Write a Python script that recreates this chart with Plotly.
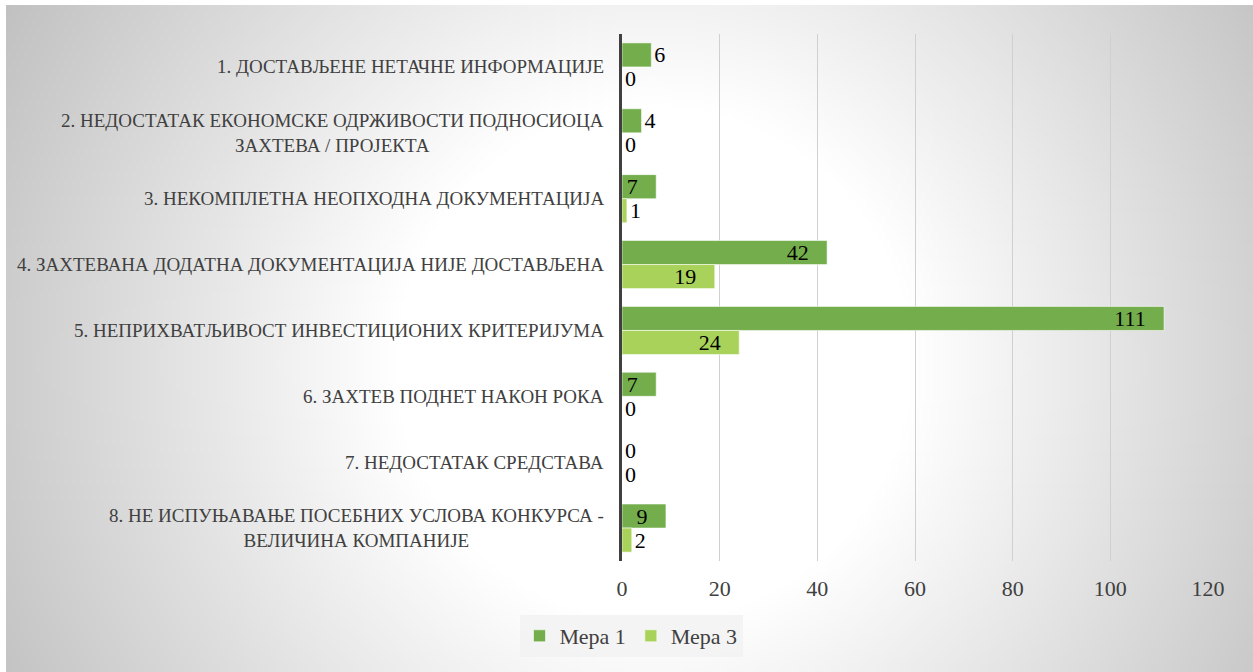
import base64
import struct
import zlib

import numpy as np
import plotly.graph_objects as go

categories = [
    "1. ДОСТАВЉЕНЕ НЕТАЧНЕ ИНФОРМАЦИЈЕ",
    "2. НЕДОСТАТАК ЕКОНОМСКЕ ОДРЖИВОСТИ ПОДНОСИОЦА<br>ЗАХТЕВА / ПРОЈЕКТА",
    "3. НЕКОМПЛЕТНА НЕОПХОДНА ДОКУМЕНТАЦИЈА",
    "4. ЗАХТЕВАНА ДОДАТНА ДОКУМЕНТАЦИЈА НИЈЕ ДОСТАВЉЕНА",
    "5. НЕПРИХВАТЉИВОСТ ИНВЕСТИЦИОНИХ КРИТЕРИЈУМА",
    "6. ЗАХТЕВ ПОДНЕТ НАКОН РОКА",
    "7. НЕДОСТАТАК СРЕДСТАВА",
    "8. НЕ ИСПУЊАВАЊЕ ПОСЕБНИХ УСЛОВА КОНКУРСА -<br>ВЕЛИЧИНА КОМПАНИЈЕ",
]
mera1 = [6, 4, 7, 42, 111, 7, 0, 9]
mera3 = [0, 0, 1, 19, 24, 0, 0, 2]
x_ticks = [0, 20, 40, 60, 80, 100, 120]

W, H = 1253, 672
ML, MR, MT, MB = 622, 45, 34, 111
plot_w = W - ML - MR
plot_h = H - MT - MB
x_max = 120
px_per_unit = plot_w / x_max

FONT = "Liberation Serif"
GREY_TEXT = "#404040"


def png_uri(pix):
    h, w, _ = pix.shape
    raw = b"".join(b"\x00" + pix[r].tobytes() for r in range(h))

    def chunk(tag, data):
        return (struct.pack(">I", len(data)) + tag + data
                + struct.pack(">I", zlib.crc32(tag + data) & 0xffffffff))

    png = (b"\x89PNG\r\n\x1a\n"
           + chunk(b"IHDR", struct.pack(">IIBBBBB", w, h, 8, 2, 0, 0, 0))
           + chunk(b"IDAT", zlib.compress(raw, 9))
           + chunk(b"IEND", b""))
    return "data:image/png;base64," + base64.b64encode(png).decode()


# radial grey background (white in the middle, grey towards the corners)
bx0, by0 = 6, 5
gw, gh = (W - bx0) // 4, (H - by0) // 4
yy, xx = np.mgrid[0:gh, 0:gw]
px_x = bx0 + xx * 4
px_y = by0 + yy * 4
dist = np.hypot(px_x - 650, px_y - 360)
t = np.clip((dist - 260) / 480, 0, 1)
shade = (255 - t * 62).astype(np.uint8)
bg = np.dstack([shade, shade, shade])


def label_settings(values):
    pos, tmpl = [], []
    for v in values:
        if v * px_per_unit >= 32:
            pos.append("inside")
            tmpl.append("%{x}\u00a0\u00a0\u2009")
        else:
            pos.append("outside")
            tmpl.append("%{x}")
    return pos, tmpl


fig = go.Figure()
for name, vals, color in [("Мера 1", mera1, "#74AE4C"), ("Мера 3", mera3, "#A8D25A")]:
    pos, tmpl = label_settings(vals)
    fig.add_bar(
        y=categories, x=vals, name=name, orientation="h",
        marker=dict(color=color, line=dict(color="rgba(255,255,255,0.55)", width=1)),
        textposition=pos, texttemplate=tmpl, insidetextanchor="end",
        constraintext="none", cliponaxis=False,
        textfont=dict(family=FONT, size=22, color="black"),
        hoverinfo="skip",
    )

for c in categories:
    fig.add_annotation(
        xref="paper", x=0, xanchor="right", xshift=-16,
        yref="y", y=c, text=c, showarrow=False, align="center",
        font=dict(family=FONT, size=19, color=GREY_TEXT),
    )

fig.add_layout_image(
    source=png_uri(bg), xref="paper", yref="paper",
    x=(bx0 - ML) / plot_w, y=(H - MB - by0) / plot_h,
    sizex=(W - bx0) / plot_w, sizey=(H - by0) / plot_h,
    xanchor="left", yanchor="top", sizing="stretch", layer="below",
)

fig.update_layout(
    width=W, height=H, autosize=False,
    margin=dict(l=ML, r=MR, t=MT, b=MB, pad=0),
    paper_bgcolor="white", plot_bgcolor="rgba(0,0,0,0)",
    barmode="group", bargap=0.27, bargroupgap=0.0,
    font=dict(family=FONT, color=GREY_TEXT),
    showlegend=True,
    legend=dict(
        orientation="h", x=(631 - ML) / plot_w, xanchor="center",
        y=-(615 - (H - MB)) / plot_h, yanchor="top",
        bgcolor="rgba(242,242,242,0.85)",
        font=dict(family=FONT, size=22, color=GREY_TEXT),
        traceorder="normal",
    ),
)
fig.update_xaxes(
    range=[0, x_max], tickvals=x_ticks, showgrid=True, gridcolor="#d0d0d0",
    gridwidth=1, zeroline=False, showline=False, ticks="",
    tickfont=dict(family=FONT, size=22, color=GREY_TEXT), ticklabelstandoff=12,
    fixedrange=True,
)
fig.update_yaxes(
    autorange="reversed", showticklabels=False, showgrid=False, zeroline=False,
    showline=True, linecolor="#404040", linewidth=3, ticks="", fixedrange=True,
)

fig.write_html(
    "out.html",
    config={"displayModeBar": False},
    post_script="document.body.style.margin='0';document.body.style.overflow='hidden';",
)
